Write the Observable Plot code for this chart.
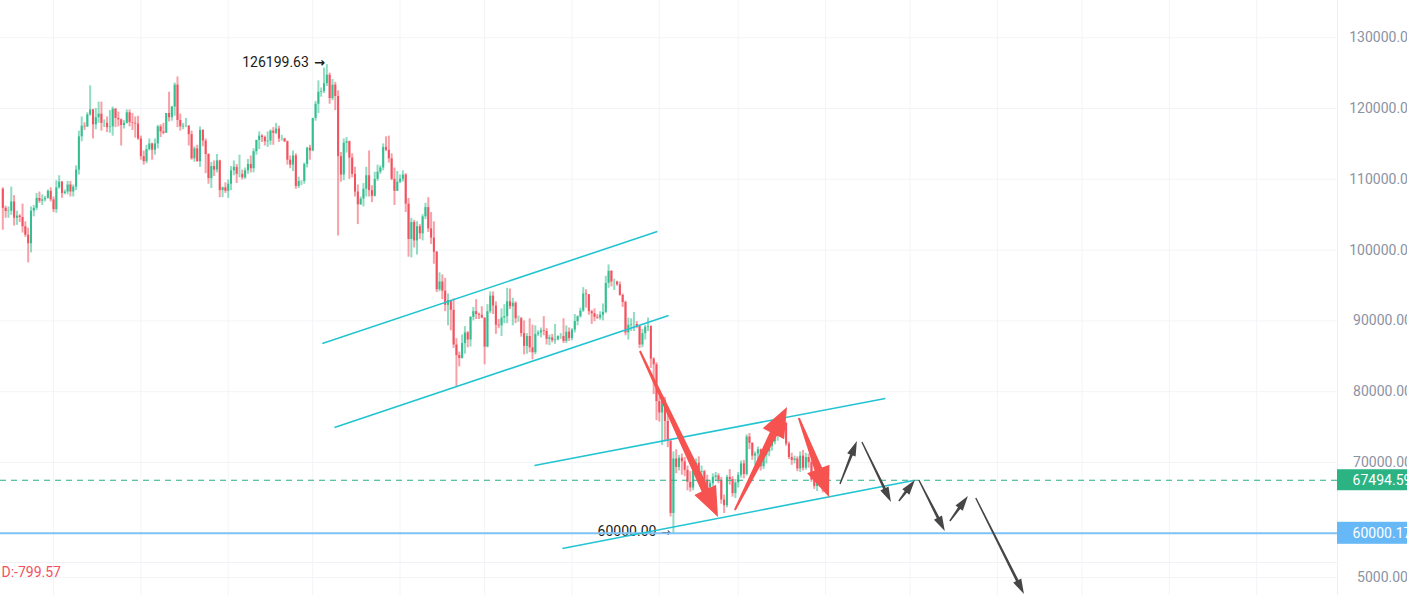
<!DOCTYPE html>
<html><head><meta charset="utf-8">
<script src="https://cdn.jsdelivr.net/npm/d3@7"></script>
<script src="https://cdn.jsdelivr.net/npm/@observablehq/plot@0.6"></script>
<style>html,body{margin:0;padding:0;background:#fff;overflow:hidden}#chart svg{display:block}</style>
</head><body><div id="chart"></div>
<script>
// ---- daily candles, first day 2025-06-13 ----
const firstDay = "2025-06-13";
const firstOpen = 108600;
const highs = [
108800,106200,106100,108900,107700,105500,105000,106500,104000,103100,
106100,106300,108000,108200,107800,107600,108500,108800,107500,109800,
110500,109700,108500,109700,109700,109200,111900,116800,118800,118000,
119400,123200,119900,120000,120900,120900,118400,118800,119700,120200,
120000,119500,118500,118300,119800,119800,119300,118800,118900,116100,
114000,114800,115700,115100,115700,117600,117700,117900,119300,122300,
120300,123600,124450,119200,117900,118600,117600,116800,114600,114800,
117400,117000,115700,113600,112400,112600,113500,112700,108900,109500,
109900,111800,112600,112100,113400,111300,111600,112800,113300,114300,
115500,116700,116300,116100,116700,117000,117300,117900,117500,116200,
115800,115400,113300,114000,113600,110300,109800,112300,114500,114800,
118600,121000,123900,122900,125700,126199.63,125000,124100,123700,122500,
113800,115700,115900,115400,113600,111700,109200,107500,109400,111700,
114000,109100,111000,112000,111900,115000,116000,116100,113600,111600,
111100,110600,111200,110800,107300,104500,104200,104000,103600,105000,
106600,107400,105300,104000,99800,96800,96500,96000,93800,92900,
93100,87500,85600,88000,89200,88500,90600,91900,93000,91100,
92000,90400,92300,94100,94100,92700,90200,91700,92300,94600,
94500,93200,92700,90700,90500,90000,88200,90300,89400,89300,
88600,89000,90600,88900,88000,88100,89500,87900,88200,90300,
89300,89000,88900,90900,90700,91800,94700,94400,93700,91500,
91700,90900,91300,92400,96300,97900,97100,95900,95600,95500,
93800,92800,90400,90300,91200,89900,89300,88800,89400,90400,
89300,84800,84100,79300,79400,79200,76900,73300,71500,71800,
71000,71200,70700,69500,68700,69200,70500,70800,69500,68900,
68200,67500,68400,68600,68400,67900,65400,68200,69000,68000,
67600,68600,70200,70300,73900,74100,72800,71500,72200,71900,
71400,71800,72600,73200,74000,74600,75600,76000,75700,72900,
71300,70900,70800,71500,71700,71300,71200,70400,68300,67600,
68100,67800,68000];
const lows = [
102800,104500,104500,104900,103400,103500,103900,102400,101800,98200,
99600,104700,105600,106600,106300,106800,107200,106800,105300,105200,
108600,107300,107800,107800,107500,107500,108400,110600,115300,116900,
117300,118900,115700,117000,117900,116800,117300,116600,116500,116100,
117300,117400,114700,117100,117800,117400,116900,115800,115500,112700,
112000,112200,114000,112700,113400,114300,115900,116300,116500,118100,
118200,118900,117300,116800,117000,117300,114700,112700,112400,112400,
111700,114600,110800,109300,108700,110400,110900,107400,107400,108000,
107300,108400,110500,109400,110200,109900,110000,110700,110900,110900,
113400,114200,115200,114700,114500,114800,114800,116300,115200,115400,
115200,112000,111500,111100,108600,108700,109100,109300,111600,112700,
113900,118200,119300,121600,122100,123100,120600,121100,119700,102000,
109600,109800,113700,110000,110200,107500,103600,106300,106100,107500,
107500,106700,107500,109700,110700,111200,113900,112300,109800,106300,
108300,109400,109600,105300,99000,98900,100300,99300,101500,101300,
104300,102500,100800,98000,94000,94100,93000,91300,89300,88600,
86100,80600,83500,84600,85300,86200,86300,90000,90200,90200,
90300,83800,86200,91000,90900,88100,88900,87800,89600,89600,
91600,89300,89600,89800,87700,85200,85300,85500,84500,85200,
87800,87600,87900,86600,86500,86900,86700,87200,87400,86800,
86800,87100,87200,88300,89300,90400,91200,91800,90800,89500,
89900,90200,90100,90000,91000,94600,94800,94300,94900,93500,
91900,87900,87300,88500,88500,88900,86100,86200,87300,88500,
83300,79600,75900,75700,72400,72900,72100,62300,60000,68400,
68800,68200,68000,66000,65800,66000,68500,68200,67800,66500,
65900,65500,66600,67300,67000,64100,62800,63600,66800,65100,
64900,66400,67800,67700,68100,71800,70300,69600,69300,68800,
69000,69800,70800,71600,72500,73000,73700,74600,72300,70400,
69600,69800,68700,68600,68800,68900,69200,67200,66200,65900,
66500,65700,65900];
const closes = [
105900,105450,105500,106800,104500,104800,104600,103300,102100,100900,
105500,105900,107300,106900,107100,107300,108300,107100,105700,108800,
109600,108000,108200,109200,108200,108900,111300,116000,117500,117400,
119100,119800,117700,118700,119200,117900,117900,117300,117400,119900,
118600,118400,117600,117900,119400,118000,117900,117800,115700,113200,
112500,114200,115000,114100,115000,117400,116700,116500,119300,118700,
120200,123300,118300,117400,117500,117500,116300,112900,114300,112500,
116900,115400,113500,110100,111800,111300,112600,108400,108800,108300,
109300,111200,111700,110700,110700,110200,111200,112100,111500,113900,
115500,116100,115900,115300,115400,116800,116500,117100,115700,115700,
115300,112700,112000,113300,109000,109700,109700,112100,114400,114000,
118600,120600,122300,122400,123500,124700,121400,123300,121700,113200,
110600,115100,115300,113000,110700,108200,106400,107200,108600,110500,
108400,107600,110000,111000,111600,114500,114100,112900,110000,108300,
109600,110000,110600,106500,101500,103900,101300,103300,102300,104700,
106000,103000,101700,99700,94400,95500,94200,92200,92900,91500,
86600,85100,84700,86800,88300,87300,90500,91300,90900,90800,
90400,86300,91300,93500,92100,89400,89300,90400,90600,92700,
92000,92500,90300,90300,88200,86400,87800,86200,85500,88100,
88300,88600,88500,87400,87600,87200,87300,87800,87800,87100,
88400,87500,88700,89900,90600,91400,93800,93700,91300,91000,
90500,90400,90800,91200,95300,97000,95500,95500,95100,93600,
92600,88300,89400,89500,89500,89200,86600,88200,89100,89200,
84600,83800,78600,77000,78700,75800,73000,62800,70500,69300,
70600,70100,68900,67200,66400,68900,69900,68600,68700,67500,
66400,67000,67900,68100,67500,64700,63900,67900,67600,65600,
67100,68200,69800,68300,73600,72700,70900,71200,71800,69400,
71000,71500,72300,72900,73700,74300,75200,75500,72600,70700,
70300,70500,69100,70900,69200,70700,70000,67500,66600,67300,
66900,66200,67494.59];

// ---- right axis ----
const tickValues = [130000, 120000, 110000, 100000, 90000, 80000, 70000, 53760];
const tickLabels = ["130000.00","120000.00","110000.00","100000.00","90000.00","80000.00","70000.00","5000.00"];
const paneBorder = [55876];

// ---- price lines and labels ----
const lastPrice = 67494.59;
const supportPrice = 60000.17;
const athLabel = {day: 115, price: 126199.63, text: "126199.63"};
const lowLabel = {day: 238, price: 60000, text: "60000.00"};
const pointer = "→";
const indicatorText = "D:-799.57";

// ---- drawn channels (day offset, price) ----
const chanX1 = [113.4, 117.7, 188.7, 198.6];
const chanP1 = [86808, 74943, 69576, 57853];
const chanX2 = [232.3, 236.3, 313.2, 323.2];
const chanP2 = [102626, 90762, 79039, 67458];

// ---- red arrows ----
const redFromX = [226.3, 260.0, 282.7];
const redFromP = [85678, 63220, 76215];
const redToX = [254.0, 278.5, 293.4];
const redToP = [62232, 77768, 65057];

// ---- dark projection arrows ----
const grayFromX = [297.3, 305.1, 318.2, 325.3, 336.3, 345.5];
const grayFromP = [66893, 72825, 64492, 67458, 61667, 64915];
const grayToX = [303.3, 315.4, 323.9, 334.5, 342.7, 362.6];
const grayToP = [72966, 64350, 67458, 60254, 65198, 51356];

// ---------------------------------------------
const DAY = 864e5;
const start = Date.parse(firstDay + "T00:00:00Z");
const toDate = d => new Date(start + d * DAY);
const candles = closes.map((c, i) => {
  const open = i ? closes[i - 1] : firstOpen;
  return {date: toDate(i), open, high: highs[i], low: lows[i], close: c, up: c >= open};
});
const GREEN = "#35bf90", RED = "#f2525f";
const xDomain = [toDate(-0.82), toDate(473.7)];
const channels = chanX1.map((d, i) => ({x1: toDate(d), y1: chanP1[i], x2: toDate(chanX2[i]), y2: chanP2[i]}));

function arrowMark(fx, fp, tx, tp, st) {
  return (index, scales) => {
    const g = d3.create("svg:g");
    fx.forEach((_, i) => {
      const x1 = scales.x(toDate(fx[i])), y1 = scales.y(fp[i]);
      const x2 = scales.x(toDate(tx[i])), y2 = scales.y(tp[i]);
      const dx = x2 - x1, dy = y2 - y1, L = Math.hypot(dx, dy);
      const ux = dx / L, uy = dy / L, nx = -uy, ny = ux;
      const bx = x2 - ux * st.head, by = y2 - uy * st.head;
      const pts = [
        [x1 + nx * st.w1 / 2, y1 + ny * st.w1 / 2],
        [bx + nx * st.w2 / 2, by + ny * st.w2 / 2],
        [bx + nx * st.hw, by + ny * st.hw],
        [x2, y2],
        [bx - nx * st.hw, by - ny * st.hw],
        [bx - nx * st.w2 / 2, by - ny * st.w2 / 2],
        [x1 - nx * st.w1 / 2, y1 - ny * st.w1 / 2]
      ].map(p => p.map(v => v.toFixed(2)).join(","));
      g.append("path").attr("d", "M" + pts.join("L") + "Z").attr("fill", st.color);
    });
    return g.node();
  };
}

const boxPrices = [lastPrice, supportPrice];
const boxColors = ["#2bb384", "#66b8f7"];
const boxHeights = [21, 22];
function priceBoxes(index, scales, values, dims) {
  const g = d3.create("svg:g");
  boxPrices.forEach((p, i) => {
    const y = scales.y(p);
    const x0 = dims.width - dims.marginRight;
    g.append("rect").attr("x", x0).attr("y", y - boxHeights[i] / 2).attr("width", dims.marginRight).attr("height", boxHeights[i]).attr("fill", boxColors[i]);
    g.append("text").attr("x", x0 + 45).attr("y", y).attr("dy", "0.35em").attr("text-anchor", "middle")
      .attr("fill", "#fff").attr("font-size", 14).text(p.toFixed(2));
  });
  return g.node();
}

const labelStyle = {x: d => toDate(d.day), y: "price", textAnchor: "end", fontSize: 14, fill: "#1b1b1b", lineAnchor: "middle"};

const chart = Plot.plot({
  width: 1407, height: 595,
  marginLeft: 0, marginRight: 70, marginTop: 0, marginBottom: 0,
  style: {fontFamily: "Roboto, 'Noto Sans', sans-serif", background: "#fff", overflow: "hidden"},
  x: {type: "utc", domain: xDomain, axis: null},
  y: {domain: [51215, 135254], axis: null},
  marks: [
    Plot.ruleY(tickValues, {stroke: "#f2f4f7", strokeWidth: 1}),
    Plot.ruleY(paneBorder, {stroke: "#eef1f5", strokeWidth: 1}),
    Plot.ruleX(d3.utcMonth.range(xDomain[0], xDomain[1]), {stroke: "#f2f4f7", strokeWidth: 1}),
    Plot.ruleX([xDomain[1]], {stroke: "#eceff3", strokeWidth: 1}),
    // candles
    Plot.ruleX(candles, {x: "date", y1: "low", y2: "high", stroke: d => d.up ? GREEN : RED, strokeOpacity: 0.55, strokeWidth: 2}),
    Plot.ruleX(candles, {x: "date", y1: "open", y2: "close", stroke: d => d.up ? GREEN : RED, strokeWidth: 2}),
    // low label under the support line
    Plot.text([lowLabel], {...labelStyle, text: "text", dx: -17, dy: -2}),
    Plot.text([lowLabel], {...labelStyle, text: () => pointer, dx: -3, dy: -1, fontSize: 11, fontFamily: "DejaVu Sans"}),
    Plot.ruleY([lastPrice], {stroke: "#27b085", strokeWidth: 1.2, strokeDasharray: "6,5"}),
    Plot.ruleY([supportPrice], {stroke: "#7fc2f6", strokeWidth: 2}),
    Plot.link(channels, {x1: "x1", y1: "y1", x2: "x2", y2: "y2", stroke: "#22c4d2", strokeWidth: 1.6}),
    arrowMark(redFromX, redFromP, redToX, redToP, {color: "#f6524f", w1: 2, w2: 8, head: 30, hw: 12}),
    arrowMark(grayFromX, grayFromP, grayToX, grayToP, {color: "#464646", w1: 1.4, w2: 2.8, head: 15, hw: 4.5}),
    Plot.text([athLabel], {...labelStyle, text: "text", dx: -18, dy: -2}),
    Plot.text([athLabel], {...labelStyle, text: () => pointer, dx: -2, dy: -2, fontSize: 13, fontWeight: "bold", fontFamily: "DejaVu Sans"}),
    Plot.text([indicatorText], {frameAnchor: "bottom-left", text: d => d, dx: 1, dy: -23, textAnchor: "start", lineAnchor: "middle", fontSize: 14, fill: "#f2525f"}),
    Plot.text(tickValues, {y: d => d, text: (d, i) => tickLabels[i], frameAnchor: "right", dx: 45, textAnchor: "middle", lineAnchor: "middle", fontSize: 14, fill: "#8b93a3"}),
    priceBoxes
  ]
});
document.getElementById("chart").appendChild(chart);
</script>
</body></html>
